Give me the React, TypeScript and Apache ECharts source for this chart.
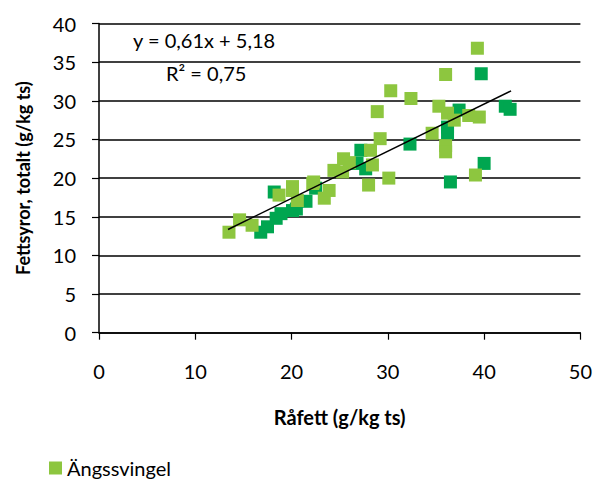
import React, { useEffect, useRef } from "react";
import * as echarts from "echarts";

const lightX = [13.5, 14.6, 15.9, 18.7, 20.1, 20.6, 22.2, 23.4, 24.4, 25.4, 25.3, 28.2, 28.4, 28.0, 29.2, 28.9, 30.3, 30.1, 32.4, 35.3, 36.0, 39.3, 36.2, 38.4, 39.5, 36.9, 34.6, 36.0, 36.0, 39.1, 23.9, 20.1, 22.3, 26.0];
const lightY = [13.0, 14.6, 13.9, 17.8, 18.4, 17.1, 19.3, 17.4, 21.0, 22.5, 20.8, 23.6, 21.7, 19.1, 25.1, 28.6, 31.3, 20.0, 30.3, 29.3, 33.4, 36.8, 28.4, 28.1, 27.9, 27.5, 25.8, 24.2, 23.4, 20.4, 18.4, 18.9, 19.5, 22.0];
const darkX = [16.8, 17.5, 18.4, 18.9, 20.1, 18.2, 22.5, 26.8, 27.7, 27.2, 32.3, 36.2, 36.2, 37.4, 39.7, 42.2, 42.7, 40.0, 36.5, 20.5, 21.5];
const darkY = [13.0, 13.7, 14.8, 15.4, 15.8, 18.2, 18.7, 21.9, 21.2, 23.6, 24.4, 25.8, 26.6, 28.8, 33.5, 29.3, 28.9, 21.9, 19.5, 16.0, 17.0];
const trendX = [13.4, 42.8];
const slope = 0.61;
const intercept = 5.18;
const xTicks = [0, 10, 20, 30, 40, 50];
const yTicks = [0, 5, 10, 15, 20, 25, 30, 35, 40];

const FONT = "Lato, 'Open Sans', sans-serif";

export default function App() {
  const ref = useRef<HTMLDivElement>(null);
  useEffect(() => {
    if (!ref.current) return;
    const chart = echarts.init(ref.current, undefined, { renderer: "svg" });
    const light = lightX.map((x, i) => [x, lightY[i]]);
    const dark = darkX.map((x, i) => [x, darkY[i]]);
    const trend = trendX.map((x) => [x, slope * x + intercept]);
    chart.setOption({
      animation: false,
      backgroundColor: "#ffffff",
      grid: { left: 99, right: 14, top: 23.5, bottom: 146.3, containLabel: false },
      xAxis: {
        type: "value",
        min: xTicks[0],
        max: xTicks[xTicks.length - 1],
        interval: 10,
        name: "Råfett (g/kg ts)",
        nameLocation: "middle",
        nameGap: 74,
        nameTextStyle: { fontFamily: FONT, fontWeight: "bold", fontSize: 20, color: "#000" },
        axisLine: { show: true, lineStyle: { color: "#000", width: 1.5 } },
        axisTick: { show: true, inside: false, length: 7, lineStyle: { color: "#000", width: 1.2 } },
        axisLabel: { margin: 28, fontFamily: FONT, fontSize: 20, color: "#000" },
        splitLine: { show: false },
      },
      yAxis: {
        type: "value",
        min: yTicks[0],
        max: yTicks[yTicks.length - 1],
        interval: 5,
        name: "Fettsyror, totalt (g/kg ts)",
        nameLocation: "middle",
        nameGap: 67,
        nameRotate: 90,
        nameTextStyle: { fontFamily: FONT, fontWeight: "bold", fontSize: 18, color: "#000" },
        axisLine: { show: true, lineStyle: { color: "#000", width: 1.5 } },
        axisTick: { show: true, inside: false, length: 7, lineStyle: { color: "#000", width: 1.2 } },
        axisLabel: { margin: 23, fontFamily: FONT, fontSize: 20, color: "#000" },
        splitLine: { show: true, lineStyle: { color: "#000", width: 1.5 } },
      },
      legend: {
        data: ["Ängssvingel"],
        left: 44,
        top: 453,
        itemWidth: 13,
        itemHeight: 13,
        icon: "rect",
        itemGap: 6,
        textStyle: { fontFamily: FONT, fontSize: 20, color: "#000" },
      },
      series: [
        {
          name: "Övrigt",
          type: "scatter",
          symbol: "rect",
          symbolSize: 13,
          itemStyle: { color: "#00a650", opacity: 1 },
          data: dark,
          z: 2,
        },
        {
          name: "Ängssvingel",
          type: "scatter",
          symbol: "rect",
          symbolSize: 13,
          itemStyle: { color: "#8dc63f", opacity: 1 },
          data: light,
          z: 3,
        },
        {
          name: "Trend",
          type: "line",
          data: trend,
          symbol: "none",
          lineStyle: { color: "#000", width: 1.5 },
          z: 5,
        },
      ],
      graphic: [
        {
          type: "text",
          left: 133,
          top: 30,
          style: { text: "y = 0,61x + 5,18", fontFamily: FONT, fontSize: 20, fill: "#000" },
        },
        {
          type: "text",
          left: 166,
          top: 63,
          style: { text: "R² = 0,75", fontFamily: FONT, fontSize: 20, fill: "#000" },
        },
      ],
    });
    return () => chart.dispose();
  }, []);
  return (
    <div
      ref={ref}
      style={{ position: "absolute", left: 0, top: 0, width: 595, height: 479, background: "#fff" }}
    />
  );
}
